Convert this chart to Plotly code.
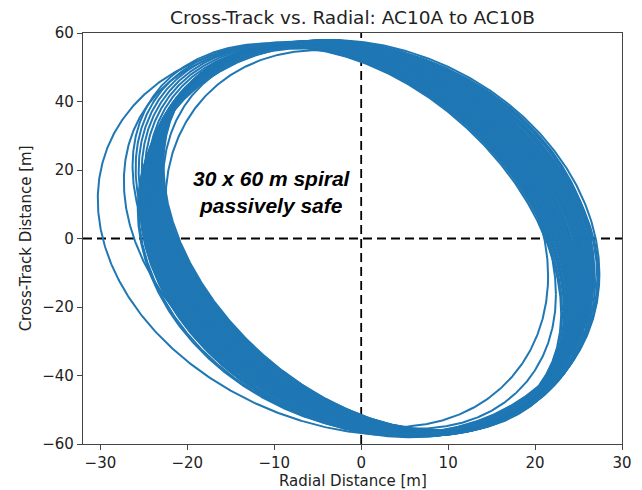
import numpy as np
import plotly.graph_objects as go

# Tick values / labels
x_tick_vals = [-30, -20, -10, 0, 10, 20, 30]
y_tick_vals = [-60, -40, -20, 0, 20, 40, 60]

def fmt(v):
    return ("\u2212" + str(abs(v))) if v < 0 else str(v)

# Per-revolution relative-motion parameters:
# radial centre [m], radial amplitude [m], cross-track amplitude [m], phase offset [rad]
# transient / isolated revolutions
iso_x0 = [-1.5, -1.0, -0.5, -0.2]
iso_a = [28.8, 26.3, 22.0, 22.6]
iso_b = [57.5, 56.5, 55.0, 55.5]
iso_ph = [-0.20, -0.30, -0.20, -0.30]

# main band, group 1 (inner upper-right edge -> outer upper-right edge)
g1_x0 = [0.00, 0.02, 0.04, 0.07, 0.09, 0.11, 0.13, 0.15, 0.17, 0.20, 0.22, 0.24,
         0.26, 0.28, 0.30, 0.33, 0.35, 0.37, 0.39, 0.41, 0.43, 0.46, 0.48, 0.50]
g1_a = [23.0, 23.1, 23.3, 23.4, 23.6, 23.7, 23.8, 24.0, 24.1, 24.3, 24.4, 24.5,
        24.7, 24.8, 25.0, 25.1, 25.2, 25.4, 25.5, 25.7, 25.8, 25.9, 26.1, 26.2]
g1_b = [56.0, 56.0, 56.1, 56.1, 56.2, 56.2, 56.3, 56.3, 56.3, 56.4, 56.4, 56.5,
        56.5, 56.6, 56.6, 56.7, 56.7, 56.7, 56.8, 56.8, 56.9, 56.9, 57.0, 57.0]
g1_ph = [-0.40, -0.39, -0.38, -0.37, -0.36, -0.35, -0.34, -0.33, -0.32, -0.31, -0.30, -0.29,
         -0.28, -0.27, -0.26, -0.25, -0.24, -0.23, -0.22, -0.21, -0.19, -0.18, -0.16, -0.15]

# main band, group 2 (outer left edge)
g2_x0 = [-0.80, -0.65, -0.50, -0.35, -0.20, -0.05, 0.10, 0.20]
g2_a = [25.5, 25.3, 25.1, 24.9, 24.7, 24.5, 24.3, 24.1]
g2_b = [57.0, 56.9, 56.8, 56.7, 56.6, 56.5, 56.4, 56.3]
g2_ph = [-0.38, -0.37, -0.36, -0.35, -0.34, -0.33, -0.32, -0.31]

# main band, group 3 (outer right / bottom edge)
g3_x0 = [1.00, 0.95, 0.90, 0.85, 0.80, 0.75, 0.70, 0.60]
g3_a = [26.4, 26.2, 26.0, 25.8, 25.6, 25.4, 25.2, 25.0]
g3_b = [58.0, 57.9, 57.8, 57.7, 57.6, 57.5, 57.4, 57.3]
g3_ph = [-0.18, -0.20, -0.22, -0.24, -0.26, -0.27, -0.28, -0.29]

# main band, group 4 (fills the thick upper-right part of the band)
g4_x0 = [0.30, 0.33, 0.35, 0.37, 0.40, 0.42, 0.44, 0.46, 0.49, 0.51, 0.53,
         0.56, 0.58, 0.60, 0.62, 0.65, 0.67, 0.69, 0.71, 0.74, 0.76, 0.78]
g4_a = [23.05, 23.2, 23.35, 23.5, 23.65, 23.75, 23.9, 24.05, 24.2, 24.35, 24.45,
        24.6, 24.75, 24.9, 25.05, 25.15, 25.3, 25.45, 25.6, 25.75, 25.85, 26.0]
g4_b = [56.2, 56.2, 56.3, 56.3, 56.4, 56.4, 56.5, 56.5, 56.6, 56.6, 56.7,
        56.7, 56.8, 56.8, 56.9, 56.9, 57.0, 57.0, 57.1, 57.1, 57.2, 57.2]
g4_ph = [-0.395, -0.385, -0.375, -0.365, -0.355, -0.345, -0.335, -0.325, -0.315, -0.305, -0.295,
         -0.285, -0.275, -0.265, -0.255, -0.245, -0.235, -0.225, -0.215, -0.200, -0.185, -0.170]

loop_x0 = iso_x0 + g1_x0 + g2_x0 + g3_x0 + g4_x0
loop_a = iso_a + g1_a + g2_a + g3_a + g4_a
loop_b = iso_b + g1_b + g2_b + g3_b + g4_b
loop_ph = iso_ph + g1_ph + g2_ph + g3_ph + g4_ph

theta = np.linspace(0, 2 * np.pi, 721)
xs, ys = [], []
for x0, a, b, ph in zip(loop_x0, loop_a, loop_b, loop_ph):
    xs.extend((x0 + a * np.cos(theta)).tolist())
    ys.extend((b * np.sin(theta + ph)).tolist())
    xs.append(None)
    ys.append(None)

fig = go.Figure()
fig.add_trace(go.Scatter(x=xs, y=ys, mode="lines",
                         line=dict(color="#1f77b4", width=2.0),
                         hoverinfo="skip", showlegend=False))

dash_style = dict(color="black", width=1.8, dash="9px,5px")
fig.add_shape(type="line", x0=0, x1=0, y0=-60, y1=60, xref="x", yref="y",
              line=dash_style, layer="below")
fig.add_shape(type="line", x0=-32, x1=30, y0=0, y1=0, xref="x", yref="y",
              line=dash_style, layer="below")

axis_common = dict(showline=True, mirror=True, linecolor="#444444", linewidth=1.3,
                   ticks="outside", ticklen=5, tickwidth=1.3, tickcolor="#444444",
                   showgrid=False, zeroline=False,
                   tickfont=dict(family="DejaVu Sans", size=15, color="#222222"))

fig.update_layout(
    width=642, height=490,
    margin=dict(l=83, r=10, t=33, b=46),
    paper_bgcolor="white", plot_bgcolor="white",
    title=dict(text="Cross-Track vs. Radial: AC10A to AC10B",
               x=0.5, xref="paper", y=1 - 18 / 490, yanchor="middle",
               font=dict(family="DejaVu Sans", size=18.5, color="#222222")),
    xaxis=dict(range=[-32, 30], tickvals=x_tick_vals,
               ticktext=[fmt(v) for v in x_tick_vals], **axis_common),
    yaxis=dict(range=[-60, 60], tickvals=y_tick_vals,
               ticktext=[fmt(v) for v in y_tick_vals], **axis_common),
    annotations=[
        dict(text="Radial Distance [m]", xref="paper", yref="paper",
             x=0.5, y=-0.089, showarrow=False, yanchor="middle",
             font=dict(family="DejaVu Sans", size=15, color="#222222")),
        dict(text="Cross-Track Distance [m]", xref="paper", yref="paper",
             x=-0.106, y=0.5, showarrow=False, textangle=-90, xanchor="center",
             font=dict(family="DejaVu Sans", size=15, color="#222222")),
        dict(text="<b><i>30 x 60 m spiral<br>passively safe</i></b>",
             x=-10.3, y=13.5, xref="x", yref="y", showarrow=False,
             font=dict(family="Liberation Sans", size=21, color="black")),
    ],
)

fig.write_html("out.html", config={"displayModeBar": False},
               post_script="document.body.style.margin='0px';")
